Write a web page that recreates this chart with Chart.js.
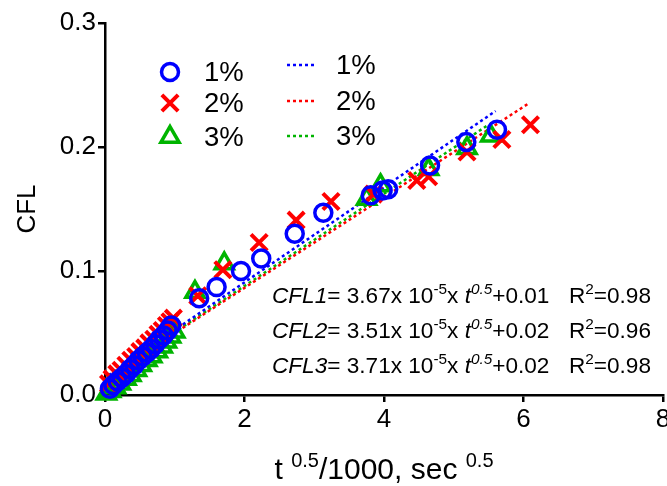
<!DOCTYPE html>
<html><head><meta charset="utf-8">
<script src="https://cdn.jsdelivr.net/npm/chart.js@4/dist/chart.umd.min.js"></script>
<style>html,body{margin:0;padding:0;background:#fff;}#wrap{width:667px;height:486px;}</style>
</head><body><div id="wrap"><canvas id="c" width="667" height="486"></canvas></div>
<script>
const FONT = "'Liberation Sans', Arial, Helvetica, sans-serif";

// Series labels
const seriesLabels = ['1%', '2%', '3%'];

// 1% measured points
const x1 = [0.07,0.12,0.18,0.24,0.30,0.36,0.42,0.48,0.54,0.60,0.66,0.72,0.78,0.84,0.90,0.95,1.35,1.60,1.95,2.24,2.72,3.13,3.81,3.98,4.06,4.66,5.18,5.62];
const y1 = [0.005,0.008,0.011,0.014,0.017,0.021,0.024,0.028,0.031,0.034,0.037,0.041,0.045,0.048,0.052,0.056,0.078,0.087,0.100,0.110,0.130,0.147,0.161,0.165,0.166,0.185,0.204,0.214];

// 2% measured points
const x2 = [0.05,0.10,0.17,0.23,0.30,0.37,0.44,0.50,0.57,0.63,0.70,0.76,0.82,0.88,0.93,0.98,1.33,1.69,2.21,2.74,3.24,3.85,4.47,4.64,5.19,5.69,6.10];
const y2 = [0.009,0.013,0.017,0.020,0.024,0.028,0.031,0.035,0.038,0.042,0.045,0.049,0.052,0.056,0.059,0.062,0.080,0.101,0.123,0.141,0.156,0.162,0.173,0.176,0.196,0.206,0.218];

// 3% measured points
const x3 = [0.02,0.08,0.15,0.22,0.30,0.37,0.45,0.52,0.60,0.67,0.75,0.82,0.88,0.94,1.00,1.29,1.71,3.75,3.95,4.64,5.19,5.53];
const y3 = [0.001,0.003,0.006,0.009,0.013,0.016,0.020,0.024,0.028,0.031,0.035,0.039,0.043,0.047,0.051,0.083,0.106,0.158,0.169,0.182,0.199,0.209];

// Fit line end points
const fitX1 = [0.05, 5.60]; const fitY1 = [0.0160, 0.229];
const fitX2 = [0.03, 6.07]; const fitY2 = [0.0145, 0.235];
const fitX3 = [0.05, 5.50]; const fitY3 = [0.0155, 0.218];

// Axis ticks
const xTicks = [0, 2, 4, 6, 8];
const yTicks = [0.0, 0.1, 0.2, 0.3];

// Equation annotation texts
const fitNames = ['CFL1', 'CFL2', 'CFL3'];
const fitSlopes = ['3.67', '3.51', '3.71'];
const fitIntercepts = ['0.01', '0.02', '0.02'];
const fitR2 = ['0.98', '0.96', '0.98'];

const BLUE = '#0000ff', RED = '#ff0000', GREEN = '#00b400';

function pts(xs, ys) { return xs.map((x, i) => ({x: x, y: ys[i]})); }

const datasets = [
  {label: seriesLabels[0], data: pts(x1, y1), pointStyle: 'circle', pointRadius: 8.5, pointBorderWidth: 3.5,
   borderColor: BLUE, backgroundColor: 'rgba(0,0,0,0)', pointBackgroundColor: 'rgba(0,0,0,0)', showLine: false, order: 1, clip: false},
  {label: seriesLabels[1], data: pts(x2, y2), pointStyle: 'crossRot', pointRadius: 11.5, pointBorderWidth: 4,
   borderColor: RED, backgroundColor: 'rgba(0,0,0,0)', showLine: false, order: 2, clip: false},
  {label: seriesLabels[2], data: pts(x3, y3), pointStyle: 'triangle', pointRadius: 10.5, pointBorderWidth: 3.5,
   borderColor: GREEN, backgroundColor: 'rgba(0,0,0,0)', pointBackgroundColor: 'rgba(0,0,0,0)', showLine: false, order: 3, clip: false},
  {label: 'fit ' + seriesLabels[0], data: pts(fitX1, fitY1), showLine: true, pointRadius: 0, borderColor: BLUE, borderWidth: 2.5, borderDash: [3, 3], order: 4, clip: false},
  {label: 'fit ' + seriesLabels[1], data: pts(fitX2, fitY2), showLine: true, pointRadius: 0, borderColor: RED, borderWidth: 2.5, borderDash: [3, 3], order: 5, clip: false},
  {label: 'fit ' + seriesLabels[2], data: pts(fitX3, fitY3), showLine: true, pointRadius: 0, borderColor: GREEN, borderWidth: 2.5, borderDash: [3, 3], order: 6, clip: false}
];

function drawRich(ctx, x, y, segs, align) {
  const base = 22.6;
  const widths = segs.map(s => {
    const sz = s.sup ? base * 0.68 : base;
    ctx.font = (s.it ? 'italic ' : '') + sz + 'px ' + FONT;
    return ctx.measureText(s.t).width;
  });
  const total = widths.reduce((a, b) => a + b, 0);
  let cx = align === 'right' ? x - total : x;
  segs.forEach((s, i) => {
    const sz = s.sup ? base * 0.68 : base;
    ctx.font = (s.it ? 'italic ' : '') + sz + 'px ' + FONT;
    ctx.fillText(s.t, cx, s.sup ? y - base * 0.42 : y);
    cx += widths[i];
  });
}

const RIGHT_EDGE = 663;

const overlay = {
  id: 'overlay',
  afterLayout(chart) {
    const xs = chart.scales.x;
    chart.chartArea.right = RIGHT_EDGE;
    chart.chartArea.width = RIGHT_EDGE - chart.chartArea.left;
    xs.right = RIGHT_EDGE;
    xs.width = RIGHT_EDGE - xs.left;
    xs.configure();
  },
  afterDraw(chart) {
    const ctx = chart.ctx;
    const H = Chart.helpers;
    ctx.save();
    ctx.fillStyle = '#000';
    ctx.textAlign = 'left';

    // Legend: markers column
    const mk = [
      {style: 'circle', r: 8.5, w: 3.5, c: BLUE, y: 72},
      {style: 'crossRot', r: 11.5, w: 4, c: RED, y: 103},
      {style: 'triangle', r: 10.5, w: 3.5, c: GREEN, y: 137}
    ];
    mk.forEach((m, i) => {
      ctx.strokeStyle = m.c; ctx.fillStyle = 'rgba(0,0,0,0)'; ctx.lineWidth = m.w;
      ctx.setLineDash([]);
      H.drawPoint(ctx, {pointStyle: m.style, radius: m.r, rotation: 0, borderWidth: m.w}, 170, m.y);
      ctx.fillStyle = '#000';
      ctx.font = '27.5px ' + FONT;
      ctx.textBaseline = 'middle';
      ctx.fillText(seriesLabels[i], 204, m.y + 1);
    });
    // Legend: fit lines column
    const ln = [{c: BLUE, y: 65}, {c: RED, y: 101}, {c: GREEN, y: 136}];
    ln.forEach((l, i) => {
      ctx.strokeStyle = l.c; ctx.lineWidth = 2.5; ctx.setLineDash([3, 3]);
      ctx.beginPath(); ctx.moveTo(287, l.y); ctx.lineTo(316, l.y); ctx.stroke();
      ctx.setLineDash([]);
      ctx.fillStyle = '#000';
      ctx.font = '27.5px ' + FONT;
      ctx.textBaseline = 'middle';
      ctx.fillText(seriesLabels[i], 336, l.y + 1);
    });

    // Equation annotations
    ctx.textBaseline = 'alphabetic';
    const rows = [303, 338, 373];
    rows.forEach((yy, i) => {
      drawRich(ctx, 272, yy, [
        {t: fitNames[i], it: true},
        {t: '= ' + fitSlopes[i] + 'x 10'},
        {t: '-5', sup: true},
        {t: 'x '},
        {t: 't', it: true},
        {t: '0.5', it: true, sup: true},
        {t: '+' + fitIntercepts[i]}
      ], 'left');
      drawRich(ctx, 651, yy, [
        {t: 'R'},
        {t: '2', sup: true},
        {t: '=' + fitR2[i]}
      ], 'right');
    });

    // X axis title
    const tb = 479, ts = 30;
    const segs = [{t: 't ', s: ts, up: 0}, {t: '0.5', s: 20, up: 12}, {t: '/1000, sec ', s: ts, up: 0}, {t: '0.5', s: 20, up: 12}];
    let tot = 0;
    segs.forEach(s => { ctx.font = s.s + 'px ' + FONT; s.w = ctx.measureText(s.t).width; tot += s.w; });
    let cx = 384 - tot / 2;
    segs.forEach(s => { ctx.font = s.s + 'px ' + FONT; ctx.fillText(s.t, cx, tb - s.up); cx += s.w; });
    ctx.restore();
  }
};

new Chart(document.getElementById('c'), {
  type: 'scatter',
  data: {datasets: datasets},
  options: {
    responsive: false,
    animation: false,
    devicePixelRatio: 1,
    layout: {padding: {top: 23, right: 2, left: 0, bottom: 0}},
    plugins: {legend: {display: false}, tooltip: {enabled: false}},
    scales: {
      x: {
        type: 'linear', min: 0, max: 8,
        afterBuildTicks: s => { s.ticks = xTicks.map(v => ({value: v})); },
        afterFit: s => { s.height = 91; s.paddingLeft = 0; s.paddingRight = 0; },
        ticks: {color: '#000', font: {size: 26, family: FONT}, padding: 2, maxRotation: 0, callback: v => String(v)},
        grid: {display: true, drawOnChartArea: false, drawTicks: true, tickLength: 7, color: '#000', lineWidth: 2.5},
        border: {display: true, color: '#000', width: 2.5}
      },
      y: {
        type: 'linear', min: 0, max: 0.3,
        afterBuildTicks: s => { s.ticks = yTicks.map(v => ({value: v})); },
        afterFit: s => { s.width = 105; s.paddingTop = 0; s.paddingBottom = 0; },
        ticks: {color: '#000', font: {size: 26, family: FONT}, padding: 2, callback: v => Number(v).toFixed(1)},
        grid: {display: true, drawOnChartArea: false, drawTicks: true, tickLength: 7, color: '#000', lineWidth: 2.5},
        border: {display: true, color: '#000', width: 2.5},
        title: {display: true, text: 'CFL', color: '#000', font: {size: 26, family: FONT}, padding: {top: 12, bottom: 0}}
      }
    }
  },
  plugins: [overlay]
});
</script>
</body></html>
